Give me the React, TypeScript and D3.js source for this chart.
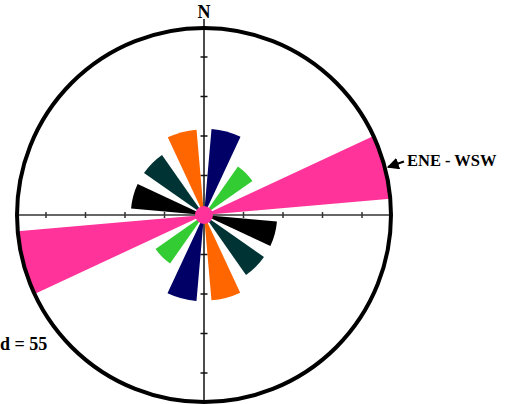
import React, { useEffect, useRef } from "react";
import * as d3 from "d3";

const azimuths = [15, 45, 75, 105, 135, 165];
const counts = [6.4, 3, 30, 4.6, 4.6, 6.3];
const colors = ["#000066", "#33cc33", "#ff3399", "#000000", "#003333", "#ff6600"];
const ringTicks = [1, 2, 3, 4];
const northLabel = "N";
const trendLabel = "ENE - WSW";
const countLabel = "d = 55";

const width = 507;
const height = 404;
const serif = "'Liberation Serif', 'Times New Roman', serif";

const App = () => {
    const ref = useRef<SVGSVGElement>(null);

    useEffect(() => {
        const svg = d3.select(ref.current);
        svg.selectAll("*").remove();

        const cx = 204;
        const cy = 215;
        const R = 187;
        const halfWidth = 10; // degrees on each side of the bin centre

        const r = d3.scaleSqrt().domain([0, d3.max(counts) as number]).range([0, R]);
        const dist = d3.scaleLinear().domain([0, 4.734]).range([0, R]);
        const rad = (deg: number) => (deg * Math.PI) / 180;

        const g = svg.append("g").attr("transform", `translate(${cx},${cy})`);

        // axes
        g.append("line")
            .attr("x1", -R).attr("x2", R).attr("y1", 0).attr("y2", 0)
            .attr("stroke", "#333").attr("stroke-width", 1.5);
        g.append("line")
            .attr("x1", 0).attr("x2", 0).attr("y1", -196).attr("y2", height - cy)
            .attr("stroke", "#111").attr("stroke-width", 1.5);

        ringTicks.forEach(t => {
            [-1, 1].forEach(s => {
                g.append("line")
                    .attr("x1", s * dist(t)).attr("x2", s * dist(t))
                    .attr("y1", -3).attr("y2", 3)
                    .attr("stroke", "#333").attr("stroke-width", 1.5);
                g.append("line")
                    .attr("y1", s * dist(t)).attr("y2", s * dist(t))
                    .attr("x1", -3.5).attr("x2", 3.5)
                    .attr("stroke", "#111").attr("stroke-width", 1.5);
            });
        });

        // petals, each bin and its opposite direction
        const arc = d3.arc<any>();
        azimuths.forEach((a, i) => {
            [0, 180].forEach(off => {
                g.append("path")
                    .attr("d", arc({
                        innerRadius: 0,
                        outerRadius: r(counts[i]),
                        startAngle: rad(a + off - halfWidth),
                        endAngle: rad(a + off + halfWidth)
                    }) as string)
                    .attr("fill", colors[i]);
            });
        });

        // outer circle
        g.append("circle")
            .attr("r", R)
            .attr("fill", "none")
            .attr("stroke", "#000")
            .attr("stroke-width", 4);

        g.append("circle").attr("r", 9).attr("fill", "#ff3399");

        // labels
        svg.append("text")
            .attr("x", cx).attr("y", 18)
            .attr("text-anchor", "middle")
            .attr("font-family", serif)
            .attr("font-weight", "bold")
            .attr("font-size", 18)
            .text(northLabel);

        svg.append("defs").append("marker")
            .attr("id", "head")
            .attr("viewBox", "0 0 10 10")
            .attr("refX", 9).attr("refY", 5)
            .attr("markerWidth", 6).attr("markerHeight", 6)
            .attr("orient", "auto")
            .append("path").attr("d", "M0,0 L10,5 L0,10 z").attr("fill", "#000");

        svg.append("line")
            .attr("x1", 404).attr("y1", 161.5)
            .attr("x2", 388).attr("y2", 167)
            .attr("stroke", "#000").attr("stroke-width", 2)
            .attr("marker-end", "url(#head)");

        svg.append("text")
            .attr("x", 407).attr("y", 166)
            .attr("font-family", serif)
            .attr("font-weight", "bold")
            .attr("font-size", 16.5)
            .text(trendLabel);

        svg.append("text")
            .attr("x", 0).attr("y", 349.5)
            .attr("font-family", serif)
            .attr("font-weight", "bold")
            .attr("font-size", 18)
            .text(countLabel);
    }, []);

    return (
        <svg
            ref={ref}
            width={width}
            height={height}
            style={{ position: "absolute", left: 0, top: 0, background: "#fff" }}
        />
    );
};

export default App;
